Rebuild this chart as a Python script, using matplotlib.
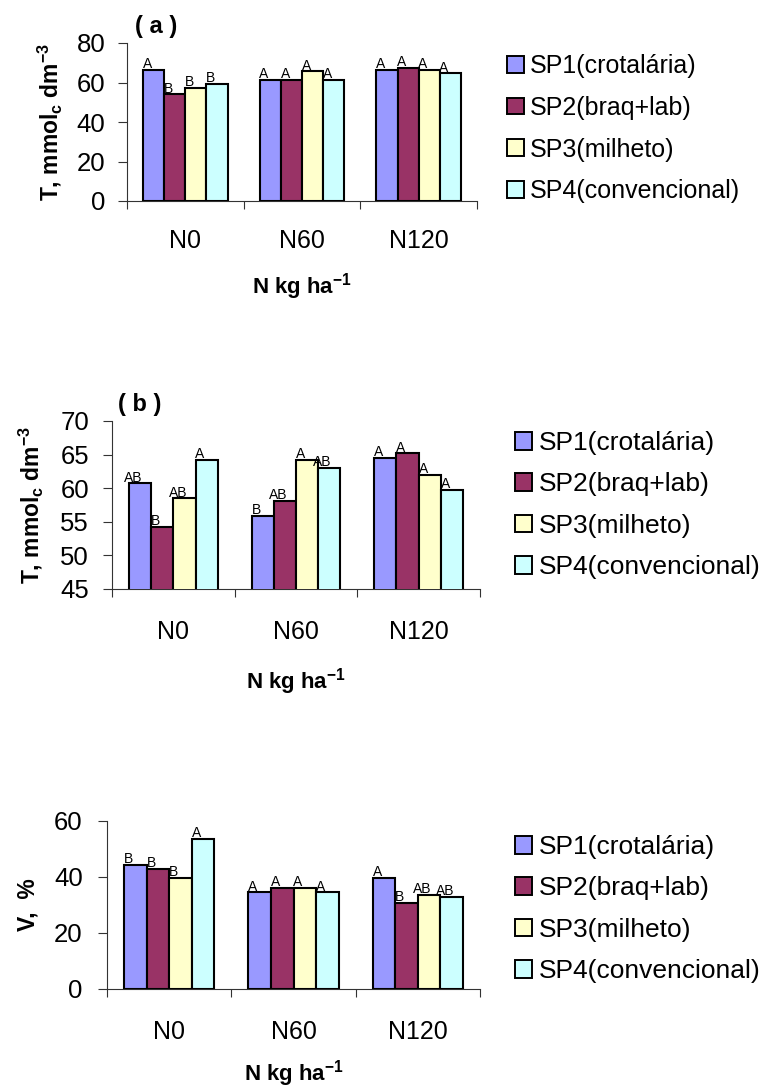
import matplotlib
matplotlib.use("Agg")
import matplotlib.pyplot as plt
from matplotlib.patches import Patch
import numpy as np

plt.rcParams['font.family'] = ['Liberation Sans', 'DejaVu Sans']
plt.rcParams['mathtext.fontset'] = 'custom'
plt.rcParams['mathtext.rm'] = 'Liberation Sans:bold'
plt.rcParams['mathtext.bf'] = 'Liberation Sans:bold'
plt.rcParams['mathtext.it'] = 'Liberation Sans:bold'
plt.rcParams['mathtext.default'] = 'rm'

# ---- data ----
categories = ['N0', 'N60', 'N120']
series_names = ['SP1(crotalária)', 'SP2(braq+lab)', 'SP3(milheto)', 'SP4(convencional)']
colors = ['#9999FF', '#993366', '#FFFFCC', '#CCFFFF']

# panel (a) T, mmolc dm-3
a_sp1 = [66.5, 61.4, 66.5]
a_sp2 = [54.1, 61.4, 67.5]
a_sp3 = [57.3, 65.6, 66.5]
a_sp4 = [59.4, 61.4, 64.6]
a_let_sp1 = ['A', 'A', 'A']
a_let_sp2 = ['B', 'A', 'A']
a_let_sp3 = ['B', 'A', 'A']
a_let_sp4 = ['B', 'A', 'A']

# panel (b) T, mmolc dm-3
b_sp1 = [60.7, 55.9, 64.5]
b_sp2 = [54.3, 58.1, 65.2]
b_sp3 = [58.5, 64.2, 62.0]
b_sp4 = [64.2, 63.0, 59.8]
b_let_sp1 = ['AB', 'B', 'A']
b_let_sp2 = ['B', 'AB', 'A']
b_let_sp3 = ['AB', 'A', 'A']
b_let_sp4 = ['A', 'AB', 'A']

# panel (c) V, %
c_sp1 = [44.4, 34.5, 39.8]
c_sp2 = [42.9, 36.1, 30.7]
c_sp3 = [39.8, 36.1, 33.7]
c_sp4 = [53.7, 34.5, 33.0]
c_let_sp1 = ['B', 'A', 'A']
c_let_sp2 = ['B', 'A', 'B']
c_let_sp3 = ['B', 'A', 'AB']
c_let_sp4 = ['A', 'A', 'AB']

W, H = 760, 1092
fig = plt.figure(figsize=(W / 100, H / 100), dpi=100)

def px_rect(l, t, r, b):
    return [l / W, 1 - b / H, (r - l) / W, (b - t) / H]

axis_col = '#333333'
bar_w = 0.181

def draw_panel(rect, vals, lets, ylim, yticks, ylabel, ylab_x, xlab_off,
               cat_pad, ytick_pad, leg_anchor, leg_fs, leg_sp, tag=None, tag_xy=None):
    ax = fig.add_axes(px_rect(*rect))
    x = np.arange(len(categories))
    for i, (v, lt) in enumerate(zip(vals, lets)):
        pos = x + (i - 1.5) * bar_w
        ax.bar(pos, v, width=bar_w, color=colors[i], edgecolor='black',
               linewidth=1.5, zorder=3)
        for xp, vv, t in zip(pos, v, lt):
            ax.annotate(t, (xp - bar_w / 2 + 0.2 * bar_w, vv), xytext=(0, -1),
                        textcoords='offset points', ha='center', va='bottom',
                        fontsize=10, zorder=4)
    ax.set_xlim(-0.5, len(categories) - 0.5)
    ax.set_ylim(*ylim)
    ax.set_yticks(yticks)
    ax.set_xticks(x)
    ax.set_xticklabels(categories, fontsize=18)
    ax.set_xticks(np.arange(len(categories) + 1) - 0.5, minor=True)
    ax.tick_params(axis='x', which='major', length=0, pad=cat_pad)
    ax.tick_params(axis='x', which='minor', length=6, width=0.8, color=axis_col,
                   direction='out')
    ax.tick_params(axis='y', length=6.5, width=0.8, color=axis_col,
                   direction='out', labelsize=18.5, pad=ytick_pad)
    for s in ['top', 'right']:
        ax.spines[s].set_visible(False)
    for s in ['left', 'bottom']:
        ax.spines[s].set_color(axis_col)
        ax.spines[s].set_linewidth(0.8)
    # y label
    l, t, r, b = rect
    fig.text(ylab_x / W, 1 - ((t + b) / 2) / H, ylabel, rotation=90,
             ha='center', va='center', fontsize=16.5, fontweight='bold')
    # x label
    fig.text(((l + r) / 2) / W, 1 - (b + xlab_off) / H, r'N kg ha$^{-1}$',
             ha='center', va='center', fontsize=16, fontweight='bold')
    if tag:
        fig.text(tag_xy[0] / W, 1 - tag_xy[1] / H, tag, ha='center', va='center',
                 fontsize=17, fontweight='bold')
    handles = [Patch(facecolor=c, edgecolor='black', linewidth=1.4) for c in colors]
    fig.legend(handles, series_names, loc='upper left',
               bbox_to_anchor=(leg_anchor[0] / W, 1 - leg_anchor[1] / H),
               frameon=False, fontsize=leg_fs, handlelength=0.66, handleheight=0.66,
               handletextpad=0.25, labelspacing=leg_sp, borderpad=0, borderaxespad=0)
    return ax

draw_panel((127, 43, 477, 201), [a_sp1, a_sp2, a_sp3, a_sp4],
           [a_let_sp1, a_let_sp2, a_let_sp3, a_let_sp4],
           (0, 80), [0, 20, 40, 60, 80], r'T, mmol$_{c}$ dm$^{-3}$', 50, 86,
           20, 9.0, (507, 54), 18, 0.71, tag='( a )', tag_xy=(156, 27))

draw_panel((112, 421, 480, 589), [b_sp1, b_sp2, b_sp3, b_sp4],
           [b_let_sp1, b_let_sp2, b_let_sp3, b_let_sp4],
           (45, 70), [45, 50, 55, 60, 65, 70], r'T, mmol$_{c}$ dm$^{-3}$', 31, 93,
           22, 10.0, (515, 431), 19, 0.66, tag='( b )', tag_xy=(140, 405))

draw_panel((107, 821, 480, 989), [c_sp1, c_sp2, c_sp3, c_sp4],
           [c_let_sp1, c_let_sp2, c_let_sp3, c_let_sp4],
           (0, 60), [0, 20, 40, 60], 'V,  %', 28, 85,
           22, 11.0, (515, 835), 19, 0.66)

fig.savefig('out.png', dpi=100)
